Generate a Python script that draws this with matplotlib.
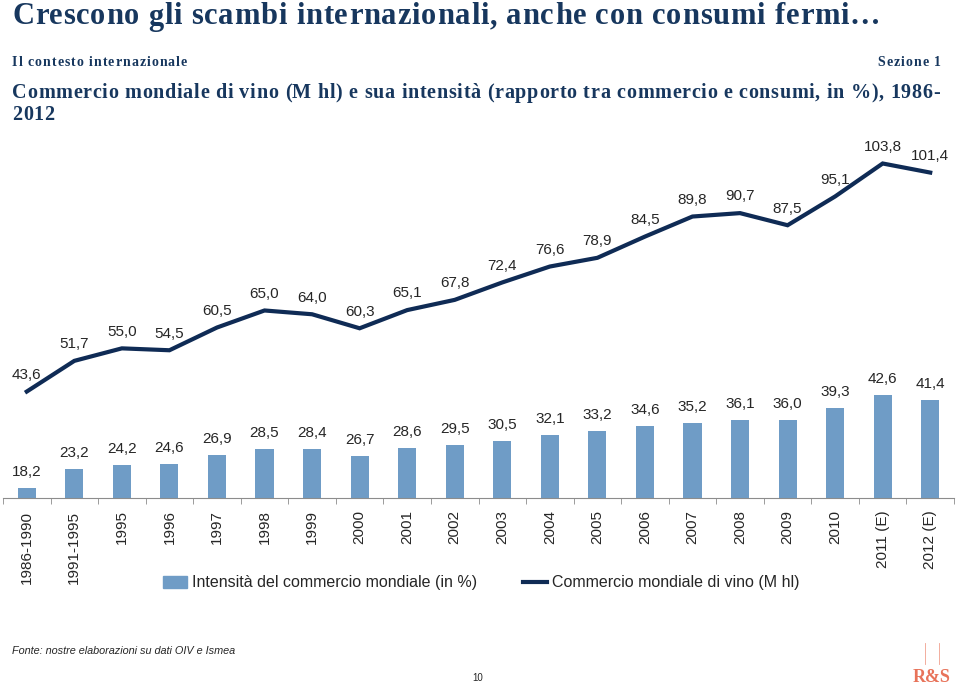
import matplotlib.pyplot as plt
from matplotlib.lines import Line2D
from matplotlib.patches import Patch
from matplotlib.font_manager import FontProperties
import numpy as np

# dati
categories = ['1986-1990', '1991-1995', '1995', '1996', '1997', '1998', '1999',
              '2000', '2001', '2002', '2003', '2004', '2005', '2006', '2007',
              '2008', '2009', '2010', '2011 (E)', '2012 (E)']
intensity = [18.2, 23.2, 24.2, 24.6, 26.9, 28.5, 28.4, 26.7, 28.6, 29.5,
             30.5, 32.1, 33.2, 34.6, 35.2, 36.1, 36.0, 39.3, 42.6, 41.4]
trade = [43.6, 51.7, 55.0, 54.5, 60.5, 65.0, 64.0, 60.3, 65.1, 67.8,
         72.4, 76.6, 78.9, 84.5, 89.8, 90.7, 87.5, 95.1, 103.8, 101.4]

navy = '#17375e'
bar_col = '#6f9cc6'
line_col = '#0f2b55'
txt_col = '#262626'
sans = ['Liberation Sans', 'DejaVu Sans']
serif = ['Liberation Serif', 'DejaVu Serif']

W, H = 960, 692


def fmt(v):
    return f"{v:.1f}".replace('.', ',')


fig = plt.figure(figsize=(W / 100, H / 100), dpi=100)
renderer = fig.canvas.get_renderer()


def spaced_text(x0, y, s, size, spacing, ha='left'):
    # testo in grassetto con spaziatura tra le lettere (coordinate in pixel)
    fp = FontProperties(family=serif, weight='bold', size=size)

    def w(t):
        return renderer.get_text_width_height_descent(t, fp, ismath=False)[0]

    offs = [w(s[:i] + '|') - w('|') for i in range(len(s))]
    total = w(s) + spacing * (len(s) - 1)
    if ha == 'right':
        x0 = x0 - total
    for i, ch in enumerate(s):
        if ch == ' ':
            continue
        fig.text((x0 + offs[i] + i * spacing) / W, 1 - y / H, ch, fontproperties=fp,
                 color=navy, va='center', ha='left')


ax = fig.add_axes([3 / W, (H - 498) / H, 951 / W, 358 / H])

x = np.arange(len(categories))
ax.bar(x, [v - 15.5 for v in intensity], bottom=15.5, width=0.38, color=bar_col)
ax.plot(x, trade, color=line_col, lw=3, solid_joinstyle='miter')

for xi, v in zip(x, intensity):
    ax.annotate(fmt(v), (xi, v), xytext=(0, 11.5), textcoords='offset points',
                ha='center', va='center', fontsize=11, family=sans, color=txt_col)
for xi, v in zip(x, trade):
    ax.annotate(fmt(v), (xi, v), xytext=(0, 12), textcoords='offset points',
                ha='center', va='center', fontsize=11, family=sans, color=txt_col)

ax.set_xlim(-0.5, len(categories) - 0.5)
ax.set_ylim(15.5, 110)
for s in ['top', 'left', 'right']:
    ax.spines[s].set_visible(False)
ax.spines['bottom'].set_color('#8c8c8c')
ax.set_yticks([])
ax.set_xticks(x)
ax.set_xticklabels(categories, rotation=90, fontsize=11, family=sans, color=txt_col, va='top')
ax.set_xticks(np.arange(len(categories) + 1) - 0.5, minor=True)
ax.tick_params(axis='x', which='major', length=0, pad=9)
ax.tick_params(axis='x', which='minor', length=4, color='#8c8c8c', direction='out')

handles = [Patch(color=bar_col), Line2D([], [], color=line_col, lw=3)]
leg = fig.legend(handles, ['Intensità del commercio mondiale (in %)',
                           'Commercio mondiale di vino (M hl)'],
                 loc='center', bbox_to_anchor=(481 / W, 1 - 583 / H), ncol=2,
                 frameon=False, handlelength=1.5, handletextpad=0.3, columnspacing=2.9,
                 prop={'family': sans, 'size': 11.5})
for t in leg.get_texts():
    t.set_color(txt_col)

# testi della pagina
spaced_text(12, 17, 'Crescono gli scambi internazionali, anche con consumi fermi…', 22, 0.8)
spaced_text(12, 62, 'Il contesto internazionale', 10, 1.0)
spaced_text(941, 62, 'Sezione 1', 10, 1.0, ha='right')
spaced_text(12, 93, 'Commercio mondiale di vino (M hl) e sua intensità (rapporto tra commercio '
                    'e consumi, in %), 1986-', 14.5, 0.7)
spaced_text(12, 115, '2012', 14.5, 0.7)

fig.text(12 / W, 1 - 651 / H, 'Fonte: nostre elaborazioni su dati OIV e Ismea',
         fontsize=7.8, style='italic', family=sans, color=txt_col, va='center')
fig.text(478 / W, 1 - 678 / H, '10', fontsize=7, family=sans, color=txt_col,
         va='center', ha='center')

# logo
fig.text(932 / W, 1 - 677 / H, 'R&S', fontsize=13, fontweight='bold', family=serif,
         color='#e8735a', va='center', ha='center')
for lx in (925, 939):
    fig.add_artist(Line2D([lx / W, lx / W], [1 - 643 / H, 1 - 664 / H],
                          color='#f0a08e', lw=0.6))

fig.savefig('out.png', dpi=100, facecolor='white')
